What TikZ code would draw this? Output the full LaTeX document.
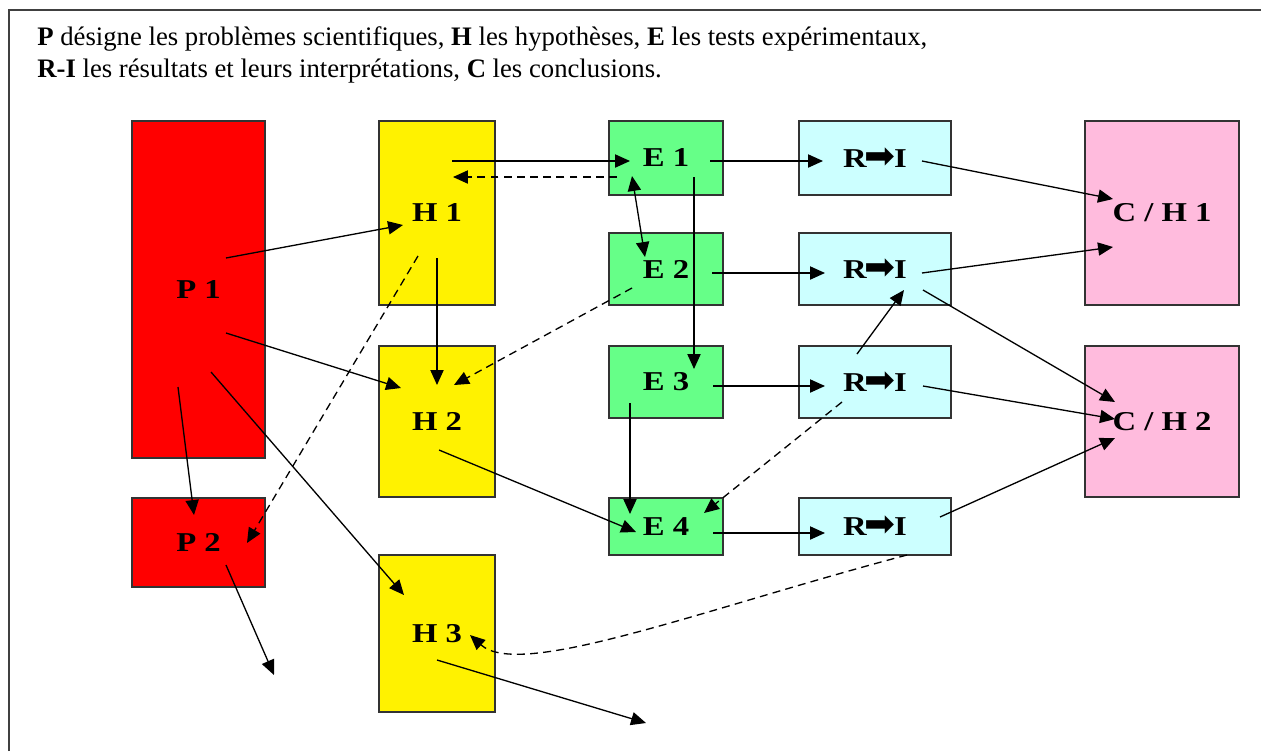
\documentclass[tikz,border=0pt]{standalone}
\usepackage{fontspec}
\setmainfont{Liberation Serif}
\newfontfamily\etiquette{Liberation Serif}[FakeStretch=1.2]
\newfontfamily\fleche{DejaVu Sans}
\usetikzlibrary{arrows.meta,positioning,calc}
\usepackage{xcolor}
\definecolor{rouge}{HTML}{FF0000}
\definecolor{jaune}{HTML}{FFF200}
\definecolor{vert}{HTML}{66FF88}
\definecolor{cyanclair}{HTML}{CCFFFF}
\definecolor{rose}{HTML}{FFBBDD}
\newcommand{\RI}{R\kern-1pt{\fleche\mdseries\fontsize{21}{21}\selectfont\raisebox{-0.6pt}{➡}}\kern-1pt I}
\tikzset{block/.style={draw=black!80, line width=0.8pt, inner sep=0pt, font=\etiquette\fontsize{15.5}{15.5}\selectfont\bfseries},
	line/.style={>={Triangle[length=8.5pt,width=7.5pt]}, ->, line width=0.75pt}
}

\begin{document}
\begin{tikzpicture}[x=0.02cm,y=-0.02cm]
\tikzstyle{probleme} = [block, fill=rouge, minimum width=2.66cm]
\tikzstyle{hypo} = [block, fill=jaune, minimum width=2.32cm]
\tikzstyle{test} = [block, fill=vert, minimum width=2.28cm]
\tikzstyle{resultat} = [block, fill=cyanclair, minimum width=3.04cm]
\tikzstyle{conclu} = [block, fill=rose, minimum width=3.08cm]
\tikzstyle{tiret} = [line, dash pattern=on 4.5pt off 3pt]

\useasboundingbox (0,0) rectangle (1261,751);
\draw[black!75, line width=1.2pt] (9,751) -- (9,10) -- (1261,10);

\node[anchor=base west, inner sep=0pt, font=\fontsize{15.2}{15.2}\selectfont] (L1) at (37,45) {\textbf{P} désigne les problèmes scientifiques, \textbf{H} les hypothèses, \textbf{E} les tests expérimentaux,};
\node[anchor=base west, inner sep=0pt, font=\fontsize{15.2}{15.2}\selectfont] (L2) at (37,77) {\textbf{R-I} les résultats et leurs interprétations, \textbf{C} les conclusions.};

\node [probleme, minimum height=6.74cm] (P1) at (198.5,289.5) {P 1};
\node [probleme, minimum height=1.78cm] (P2) at (198.5,542.5) {P 2};

\node [hypo, minimum height=3.68cm] (H1) at (437,213) {H 1};
\node [hypo, minimum height=3.02cm] (H2) at (437,421.5) {H 2};
\node [hypo, minimum height=3.14cm] (H3) at (437,633.5) {H 3};

\node [test, minimum height=1.48cm] (E1) at (666,158) {E 1};
\node [test, minimum height=1.44cm] (E2) at (666,269) {E 2};
\node [test, minimum height=1.44cm] (E3) at (666,382) {E 3};
\node [test, minimum height=1.14cm] (E4) at (666,526.5) {E 4};

\node [resultat, minimum height=1.48cm] (R1) at (875,158) {\RI};
\node [resultat, minimum height=1.44cm] (R2) at (875,269) {\RI};
\node [resultat, minimum height=1.44cm] (R3) at (875,382) {\RI};
\node [resultat, minimum height=1.14cm] (R4) at (875,526.5) {\RI};

\node [conclu, minimum height=3.68cm] (C1) at (1162,213) {C / H 1};
\node [conclu, minimum height=3.02cm] (C2) at (1162,421.5) {C / H 2};

\coordinate (P2fin) at (274,675);
\coordinate (H3fin) at (646,723);

%Lines
\draw[line] ($(P1)+(27.5,-31.5)$) -- ($(H1)+(-34,12)$);
\draw[line] ($(P1)+(27.5,43.5)$) -- ($(H2)+(-36,-33.5)$);
\draw[line] ($(P1)+(12.5,82.5)$) -- ($(H3)+(-33,-38.5)$);
\draw[line] ($(P1)+(-20.5,97.5)$) -- ($(P2)+(-4.5,-27.5)$);
\draw[line] ($(P2)+(27.5,22.5)$) -- (P2fin);

\draw[line] ($(H1)+(0,45)$) -- ($(H2)+(0,-36.5)$);
\draw[line] ($(H1)+(15,-52)$) -- ($(E1)+(-36,3)$);
\draw[line] ($(H2)+(2,28.5)$) -- ($(E4)+(-30,5.5)$);
\draw[line] ($(H3)+(0,26.5)$) -- (H3fin);

\draw[line] ($(E1)+(44,3)$) -- ($(R1)+(-52,3)$);
\draw[line] ($(E1)+(28,19)$) -- ($(E3)+(28,-13)$);
\draw[line, <->] ($(E1)+(-34,18)$) -- ($(E2)+(-21,-12)$);
\draw[line] ($(E2)+(46,4)$) -- ($(R2)+(-50,4)$);
\draw[line] ($(E3)+(47,4)$) -- ($(R3)+(-50,4)$);
\draw[line] ($(E3)+(-36,21)$) -- ($(E4)+(-36,-12.5)$);
\draw[line] ($(E4)+(47,6.5)$) -- ($(R4)+(-50,6.5)$);

\draw[line] ($(R1)+(47,3)$) -- ($(C1)+(-49,-14)$);
\draw[line] ($(R2)+(47,4)$) -- ($(C1)+(-49,34)$);
\draw[line] ($(R2)+(48,21)$) -- ($(C2)+(-47,-19.5)$);
\draw[line] ($(R3)+(-18,-28)$) -- ($(R2)+(29,21)$);
\draw[line] ($(R3)+(48,4)$) -- ($(C2)+(-47,-2.5)$);
\draw[line] ($(R4)+(65,-9.5)$) -- ($(C2)+(-47,16.5)$);

%dashed
\draw[tiret] ($(E1)+(-49,19)$) -- ($(H1)+(16,-36)$);
\draw[tiret] ($(H1)+(-19,43)$) -- ($(P2)+(48.5,0.5)$);
\draw[tiret] ($(E2)+(-34,19)$) -- ($(H2)+(17,-36.5)$);
\draw[tiret] ($(R3)+(-33,20)$) -- ($(E4)+(38,-13.5)$);
\draw[tiret] ($(R4)+(32,28.5)$) .. controls (700,610) and (520,680) .. ($(H3)+(33,1.5)$);
\end{tikzpicture}
\end{document}
